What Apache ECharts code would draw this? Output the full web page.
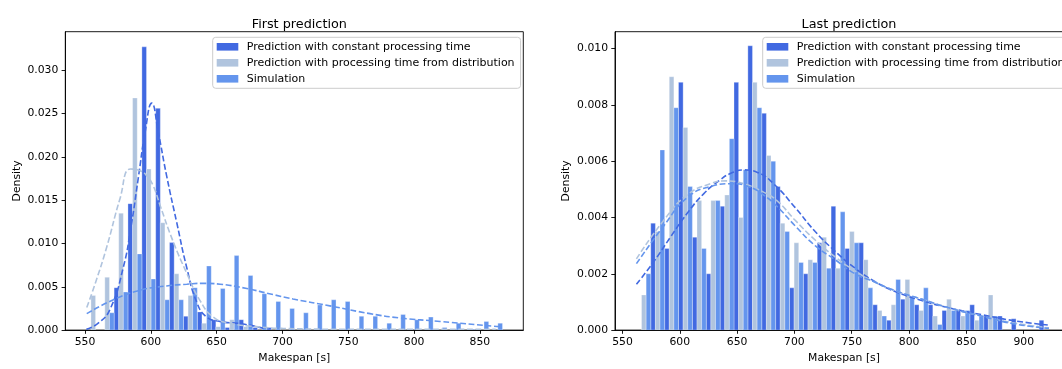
<!DOCTYPE html>
<html>
<head>
<meta charset="utf-8">
<script src="https://cdn.jsdelivr.net/npm/echarts/dist/echarts.min.js"></script>
<style>
  html, body { margin: 0; padding: 0; background: #fff; overflow: hidden; }
  #chart { width: 1090px; height: 369px; }
</style>
</head>
<body>
<div id="chart"></div>
<script>
// series names + colours (seaborn hue order)
var names = [
  'Prediction with constant processing time',
  'Prediction with processing time from distribution',
  'Simulation'
];
var colors = ['#4169E1', '#B0C4DE', '#6495ED'];

// tick labels
var leftTicks = [550, 600, 650, 700, 750, 800, 850];
var rightTicks = [550, 600, 650, 700, 750, 800, 850, 900];
var leftYTicks = [0, 0.005, 0.010, 0.015, 0.020, 0.025, 0.030];
var rightYTicks = [0, 0.002, 0.004, 0.006, 0.008, 0.010];

// ---- First prediction: bin edges and densities ----
var leftEdges = [551.0, 561.5, 572.1, 582.6, 593.2, 603.7, 614.2, 624.8, 635.3, 645.9,
  656.4, 666.9, 677.5, 688.0, 698.6, 709.1, 719.6, 730.2, 740.7, 751.3,
  761.8, 772.3, 782.9, 793.4, 804.0, 814.5, 825.0, 835.6, 846.1, 856.7, 867.2];

var leftConst = [0, 0, 0.0049, 0.0146, 0.0327, 0.0256, 0.0101, 0.0016, 0.0021, 0.0012,
  0.0003, 0.0012, 0.0003, 0.0003, 0, 0, 0, 0, 0, 0,
  0, 0, 0, 0, 0, 0, 0, 0, 0, 0];
var leftDist = [0.0040, 0.0061, 0.0135, 0.0268, 0.0186, 0.0124, 0.0065, 0.0040, 0.0008, 0.0004,
  0.0012, 0.0004, 0, 0, 0, 0, 0, 0, 0, 0,
  0, 0, 0, 0, 0, 0, 0, 0, 0, 0];
var leftSim = [0, 0.0020, 0.0044, 0.0088, 0.0059, 0.0035, 0.0035, 0.0049, 0.0074, 0.0048,
  0.0086, 0.0063, 0.0042, 0.0033, 0.0025, 0.0020, 0.0029, 0.0035, 0.0033, 0.0016,
  0.0016, 0.0008, 0.0018, 0.0012, 0.0015, 0.0003, 0.0008, 0.0001, 0.0010, 0.0008];

// kde curves
var leftConstKdeX = [551, 560, 569, 579, 585, 590.5, 595.6, 600.7, 605.7, 612, 619.7, 627.3, 634.9, 642.5, 652.6, 670, 686];
var leftConstKdeY = [0.0001, 0.0008, 0.0024, 0.0072, 0.0120, 0.0176, 0.0228, 0.0262, 0.0228, 0.0178, 0.0124, 0.0072, 0.0032, 0.0015, 0.0010, 0.0007, 0.0002];
var leftDistKdeX = [551.3, 558, 566.5, 576.6, 584.5, 591.8, 597, 602, 607, 617, 627.2, 637.4, 647.5, 660, 680, 700, 750, 800, 862];
var leftDistKdeY = [0.0026, 0.0055, 0.0096, 0.0152, 0.0186, 0.0184, 0.0178, 0.0166, 0.0144, 0.0102, 0.0066, 0.0034, 0.0015, 0.0008, 0.0004, 0.0002, 0.0001, 0.0001, 0.0001];
var leftSimKdeX = [551.3, 571.5, 591.8, 612, 627.3, 640, 652.6, 672.9, 690, 708, 736, 766.5, 789.4, 819.8, 860.3, 866];
var leftSimKdeY = [0.0019, 0.0035, 0.0046, 0.0051, 0.0053, 0.0054, 0.0053, 0.0048, 0.0042, 0.0036, 0.0028, 0.0019, 0.0014, 0.0010, 0.00045, 0.0004];

// ---- Last prediction ----
var rightEdges = [562.6, 574.7, 586.8, 598.9, 611.0, 623.1, 635.2, 647.3, 659.4, 671.5,
  683.6, 695.7, 707.8, 719.9, 732.0, 744.1, 756.2, 768.3, 780.4, 792.5,
  804.6, 816.7, 828.8, 840.9, 853.0, 865.1, 877.2, 889.3, 901.4, 913.5, 925.6];

var rightConst = [0, 0.0038, 0.0029, 0.0088, 0.0033, 0.0020, 0.0044, 0.0088, 0.0101, 0.0077,
  0.0051, 0.0015, 0.0020, 0.0031, 0.0044, 0.0029, 0.0031, 0.0009, 0.00035, 0.0011,
  0.0009, 0.0009, 0.0007, 0.0007, 0.0009, 0.0005, 0.0005, 0.0004, 0, 0.00035];
var rightDist = [0.00125, 0.0035, 0.0090, 0.0072, 0.0046, 0.0046, 0.0048, 0.0040, 0.0088, 0.0062,
  0.0038, 0.0031, 0.0025, 0.0033, 0.0022, 0.0035, 0.0025, 0.0007, 0.0009, 0.0018,
  0.0007, 0.0005, 0.0011, 0.0005, 0.00035, 0.00125, 0, 0, 0, 0];
var rightSim = [0.0020, 0.0064, 0.0079, 0.0051, 0.0029, 0.0046, 0.0068, 0.0057, 0.0079, 0.0060,
  0.0035, 0.0024, 0.0024, 0.0022, 0.0042, 0.0031, 0.0015, 0.0005, 0.0018, 0.0012,
  0.0015, 0.0002, 0.0007, 0.0007, 0.0005, 0.0005, 0, 0, 0, 0];

var rightConstKdeX = [562.2, 577.3, 591.8, 606.3, 620.8, 635.3, 644.1, 655.7, 667.3, 681.8, 700.7, 718.1, 735.5, 752.9, 770.4, 787.8, 811, 834, 863, 892, 921];
var rightConstKdeY = [0.00163, 0.00243, 0.00330, 0.00414, 0.00484, 0.00534, 0.00556, 0.00569, 0.00561, 0.0052, 0.00435, 0.0035, 0.0028, 0.0022, 0.00172, 0.00137, 0.00105, 0.0008, 0.00055, 0.00033, 0.00018];
var rightDistKdeX = [562.2, 586, 606.3, 626.6, 640, 655.7, 673.1, 684.7, 700.7, 718.1, 735.5, 752.9, 770.4, 787.8, 811, 834, 863, 892, 922];
var rightDistKdeY = [0.00253, 0.0039, 0.0048, 0.0052, 0.0053, 0.0052, 0.0049, 0.0046, 0.0039, 0.0032, 0.0026, 0.0021, 0.0017, 0.00140, 0.0011, 0.0008, 0.0005, 0.00025, 0.00008];
var rightSimKdeX = [562.2, 586, 606.3, 626.6, 645, 660, 673.1, 684.7, 700.7, 718.1, 735.5, 752.9, 770.4, 787.8, 811, 834, 863, 892, 922];
var rightSimKdeY = [0.00236, 0.0037, 0.0047, 0.0051, 0.0052, 0.0051, 0.0048, 0.0044, 0.0037, 0.0030, 0.0025, 0.0020, 0.0017, 0.0014, 0.0011, 0.0008, 0.0005, 0.00022, 0.00006];

var FONT = 'DejaVu Sans';
var FS = 10.8;

function histData(edges, values) {
  return values.map(function (v, i) { return [edges[i], edges[i + 1], v]; });
}

function kdeData(xs, ys) {
  return xs.map(function (x, i) { return [x, ys[i]]; });
}

// k-th dodge slot inside a bin
function barRender(k) {
  return function (params, api) {
    var x0 = api.value(0), x1 = api.value(1), v = api.value(2);
    if (!(v > 0)) return null;
    var w = (x1 - x0) / 3;
    var p0 = api.coord([x0 + k * w, v]);
    var p1 = api.coord([x0 + (k + 1) * w, 0]);
    return {
      type: 'rect',
      shape: { x: p0[0], y: p0[1], width: p1[0] - p0[0], height: p1[1] - p0[1] },
      style: { fill: api.visual('color'), stroke: '#fff', lineWidth: 0.3 }
    };
  };
}

function xAxis(idx, min, max, ticks) {
  return {
    type: 'value', gridIndex: idx, min: min, max: max,
    name: 'Makespan [s]', nameLocation: 'middle', nameGap: 20,
    nameTextStyle: { fontFamily: FONT, fontSize: FS, color: '#000' },
    axisLine: { show: true, lineStyle: { color: '#000', width: 0.9 } },
    axisTick: { show: true, length: 3.7, customValues: ticks, lineStyle: { color: '#000', width: 0.9 } },
    axisLabel: { customValues: ticks, margin: 7, fontFamily: FONT, fontSize: FS, color: '#000' },
    splitLine: { show: false }
  };
}

function yAxis(idx, max, ticks, digits) {
  return {
    type: 'value', gridIndex: idx, min: 0, max: max,
    name: 'Density', nameLocation: 'middle', nameGap: 43, nameRotate: 90,
    nameTextStyle: { fontFamily: FONT, fontSize: FS, color: '#000' },
    axisLine: { show: true, lineStyle: { color: '#000', width: 0.9 } },
    axisTick: { show: true, length: 3.7, customValues: ticks, lineStyle: { color: '#000', width: 0.9 } },
    axisLabel: {
      customValues: ticks, margin: 7, fontFamily: FONT, fontSize: FS, color: '#000',
      formatter: function (v) { return v.toFixed(digits); }
    },
    splitLine: { show: false }
  };
}

function legend(left) {
  return {
    orient: 'vertical', left: left, top: 37.3,
    padding: [4, 6, 4, 4],
    itemWidth: 21.6, itemHeight: 7.6, itemGap: 5,
    backgroundColor: 'rgba(255,255,255,0.8)',
    borderColor: '#cccccc', borderWidth: 1, borderRadius: 3,
    selectedMode: false,
    textStyle: { fontFamily: FONT, fontSize: 11, color: '#000', lineHeight: 11, padding: [0, 0, 0, 3.4] },
    data: names.map(function (n, i) {
      return { name: n, icon: 'rect', itemStyle: { color: colors[i] } };
    })
  };
}

var hist = [[leftConst, leftDist, leftSim], [rightConst, rightDist, rightSim]];
var edges = [leftEdges, rightEdges];
var kdes = [
  [[leftConstKdeX, leftConstKdeY], [leftDistKdeX, leftDistKdeY], [leftSimKdeX, leftSimKdeY]],
  [[rightConstKdeX, rightConstKdeY], [rightDistKdeX, rightDistKdeY], [rightSimKdeX, rightSimKdeY]]
];

var series = [];
for (var g = 0; g < 2; g++) {
  for (var k = 0; k < 3; k++) {
    series.push({
      type: 'custom', name: names[k], xAxisIndex: g, yAxisIndex: g,
      itemStyle: { color: colors[k] },
      encode: { x: [0, 1], y: 2 },
      renderItem: barRender(k),
      clip: true, z: 2,
      data: histData(edges[g], hist[g][k])
    });
  }
  for (var k = 0; k < 3; k++) {
    series.push({
      type: 'line', name: names[k] + ' kde', xAxisIndex: g, yAxisIndex: g,
      data: kdeData(kdes[g][k][0], kdes[g][k][1]),
      showSymbol: false, symbol: 'none', smooth: 0.5,
      lineStyle: { color: colors[k], width: 1.6, type: [5.9, 2.6] },
      z: 3, silent: true
    });
  }
}

var option = {
  animation: false,
  backgroundColor: '#fff',
  textStyle: { fontFamily: FONT },
  title: [
    { text: 'First prediction', left: 294.3, top: 13, textAlign: 'center',
      textStyle: { fontFamily: FONT, fontSize: 12.8, fontWeight: 'normal', color: '#000' } },
    { text: 'Last prediction', left: 844, top: 13, textAlign: 'center',
      textStyle: { fontFamily: FONT, fontSize: 12.8, fontWeight: 'normal', color: '#000' } }
  ],
  legend: [legend(212.7), legend(762.7)],
  grid: [
    { left: 65.3, top: 31.7, width: 458, height: 304.3, show: true, borderColor: '#000', borderWidth: 0.9, backgroundColor: 'transparent' },
    { left: 615, top: 31.7, width: 458, height: 304.3, show: true, borderColor: '#000', borderWidth: 0.9, backgroundColor: 'transparent' }
  ],
  xAxis: [xAxis(0, 535, 883, leftTicks), xAxis(1, 543.5, 943, rightTicks)],
  yAxis: [yAxis(0, 0.03445, leftYTicks, 3), yAxis(1, 0.0106, rightYTicks, 3)],
  series: series
};

var myChart = echarts.init(document.getElementById('chart'), null, { renderer: 'canvas' });
myChart.setOption(option);
</script>
</body>
</html>
